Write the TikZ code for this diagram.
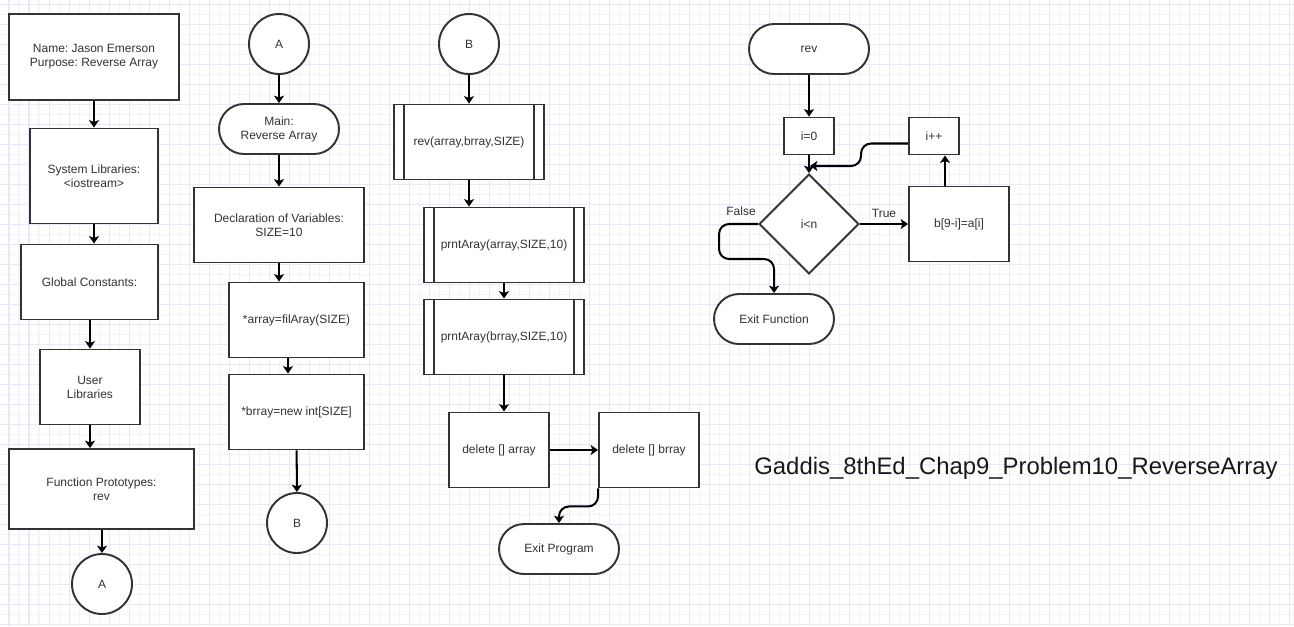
\documentclass[tikz,border=0pt]{standalone}
\usepackage{fontspec}
\setmainfont{Liberation Sans}
\frenchspacing
\usetikzlibrary{arrows.meta,shapes.geometric}
\definecolor{linegray}{HTML}{333333}
\definecolor{gridminor}{HTML}{F3F3FC}
\definecolor{gridmajor}{HTML}{E8E8F9}
\tikzset{
  box/.style={draw=linegray, line width=1.1pt, fill=white, text=linegray,
    font=\fontsize{6.83}{8}\selectfont, align=center, inner sep=0pt},
  proc/.style={box, rectangle},
  term/.style={box, rectangle, rounded corners=0.5cm, minimum width=2.4cm, minimum height=1cm},
  conn/.style={box, circle, minimum size=1.2cm},
  subproc/.style={proc, path picture={
    \draw[linegray, line width=1.1pt]
      ([xshift=0.2cm]path picture bounding box.north west) -- ([xshift=0.2cm]path picture bounding box.south west)
      ([xshift=-0.2cm]path picture bounding box.north east) -- ([xshift=-0.2cm]path picture bounding box.south east);}},
  decision/.style={box, diamond, minimum width=2cm, minimum height=2cm, aspect=1},
  flow/.style={draw=black, line width=1.15pt, -{Stealth[length=4.2pt,width=5.7pt,inset=1pt]}},
  lbl/.style={text=linegray, font=\fontsize{6.83}{8}\selectfont}
}
\begin{document}
\begin{tikzpicture}[x=0.02cm,y=-0.02cm]
          \useasboundingbox (0,0) rectangle (1294,626);
          \fill[white] (0,0) rectangle (1294,626);
          \foreach \gx in {9,19,...,1289} \draw[gridminor, line width=0.57pt] (\gx,0) -- (\gx,626);
          \foreach \gy in {4,14,...,624} \draw[gridminor, line width=0.57pt] (0,\gy) -- (1294,\gy);
          \foreach \gx in {9,29,...,1289} \draw[gridmajor, line width=0.57pt] (\gx,0) -- (\gx,626);
          \foreach \gy in {4,24,...,624} \draw[gridmajor, line width=0.57pt] (0,\gy) -- (1294,\gy);

          \node[proc, minimum width=3.4cm, minimum height=1.72cm] (name) at (94,57) {Name: Jason Emerson\\Purpose: Reverse Array};
          \node[proc, minimum width=2.56cm, minimum height=1.9cm] (syslib) at (94,176) {System Libraries:\\<iostream>};
          \node[proc, minimum width=2.74cm, minimum height=1.5cm] (globconst) at (89.5,282) {Global Constants:};
          \node[proc, minimum width=2cm, minimum height=1.5cm] (userlib) at (90,387) {User\\Libraries};
          \node[proc, minimum width=3.7cm, minimum height=1.6cm] (protos) at (101.5,489) {Function Prototypes:\\rev};
          \node[conn] (outA) at (102,584) {A};

          \node[conn] (inA) at (279,44) {A};
          \node[term] (main) at (279,129) {Main:\\Reverse Array};
          \node[proc, minimum width=3.4cm, minimum height=1.5cm] (decl) at (279,225) {Declaration of Variables:\\SIZE=10};
          \node[proc, minimum width=2.7cm, minimum height=1.5cm] (fill) at (296.5,320) {*array=filAray(SIZE)};
          \node[proc, minimum width=2.7cm, minimum height=1.5cm] (alloc) at (296.5,412) {*brray=new int[SIZE]};
          \node[conn] (outB) at (297,523) {B};

          \node[conn] (inB) at (469,44) {B};
          \node[subproc, minimum width=3cm, minimum height=1.5cm] (callrev) at (469,142) {rev(array,brray,SIZE)};
          \node[subproc, minimum width=3.2cm, minimum height=1.5cm] (printa) at (504,245) {prntAray(array,SIZE,10)};
          \node[subproc, minimum width=3.2cm, minimum height=1.5cm] (printb) at (504,337) {prntAray(brray,SIZE,10)};
          \node[proc, minimum width=2cm, minimum height=1.5cm] (dela) at (499,450) {delete [] array};
          \node[proc, minimum width=2cm, minimum height=1.5cm] (delb) at (649,450) {delete [] brray};
          \node[term] (exitprog) at (559,549) {Exit Program};

          \node[term] (revstart) at (809,49) {rev};
          \node[proc, minimum width=1cm, minimum height=0.74cm] (init) at (809,136) {i=0};
          \node[proc, minimum width=1cm, minimum height=0.74cm] (incr) at (934,136) {i++};
          \node[decision] (test) at (809,224) {i<n};
          \node[proc, minimum width=2cm, minimum height=1.5cm] (swap) at (959,224) {b[9-i]=a[i]};
          \node[term] (exitfn) at (774,319) {Exit Function};
          \node[lbl] (falselbl) at (741,211) {False};
          \coordinate (join) at (810,166);
          \coordinate (incrfoot) at ([xshift=0.22cm]incr.south);

          \node[font=\fontsize{13.6}{16}\selectfont, text=black!90] (title) at (1016,468) {Gaddis\_8thEd\_Chap9\_Problem10\_ReverseArray};

          \draw[flow] (name) -- (syslib);
          \draw[flow] (syslib) -- (syslib |- globconst.north);
          \draw[flow] (globconst.south -| userlib) -- (userlib);
          \draw[flow] (userlib) -- (userlib |- protos.north);
          \draw[flow] (protos.south -| outA) -- (outA);

          \draw[flow] (inA) -- (main);
          \draw[flow] (main) -- (decl);
          \draw[flow] (decl) -- (decl |- fill.north);
          \draw[flow] ([xshift=-0.17cm]fill.south) -- ([xshift=-0.17cm]alloc.north);
          \draw[flow] (alloc) -- (outB);

          \draw[flow] (inB) -- (callrev);
          \draw[flow] (callrev) -- (callrev |- printa.north);
          \draw[flow] (printa) -- (printb);
          \draw[flow] (printb) -- (printb |- dela.north);
          \draw[flow] (dela) -- (delb);
          \draw[flow, rounded corners=0.2cm] (delb.south west) -- ++(0,18) -| (exitprog.north);

          \draw[flow] (revstart) -- (init);
          \draw[flow] (init) -- (test);
          \draw[flow] (test) -- node[lbl, above] {True} (swap);
          \draw[flow] (incrfoot |- swap.north) -- (incrfoot);
          \draw[flow, rounded corners=0.2cm] ([yshift=-0.15cm]incr.west) -- ++(-47,0) |- (join);
          \draw[flow, rounded corners=0.2cm] (test.west) -- ++(-39,0) -- ++(0,35) -| (exitfn.north);
        \end{tikzpicture}
\end{document}
